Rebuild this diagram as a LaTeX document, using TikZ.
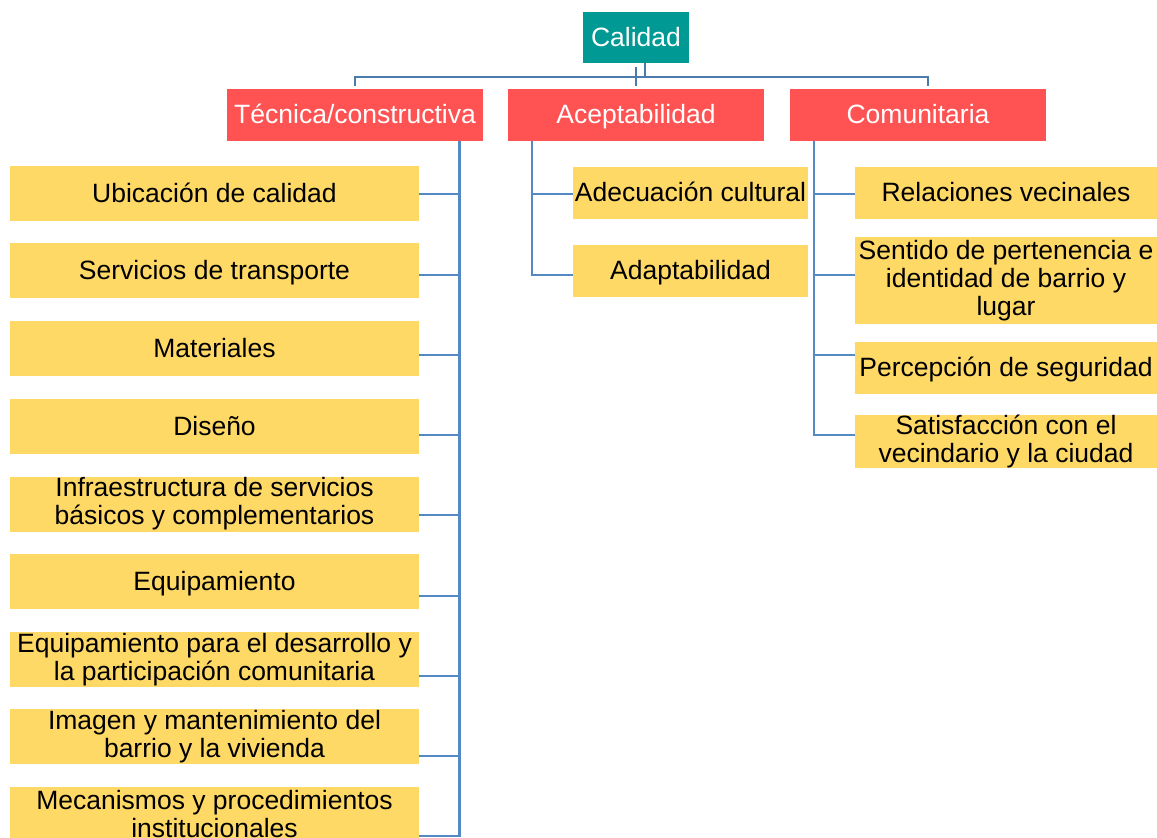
\documentclass[tikz,border=0pt]{standalone}
\usepackage{fontspec}
\setmainfont{Liberation Sans}
\usepackage{tikz}
\usetikzlibrary{calc}
\definecolor{CALteal}{RGB}{0, 153, 148}
\definecolor{CALred}{RGB}{255, 82, 82}
\definecolor{CALyellow}{RGB}{255, 217, 102}
\definecolor{CALblue}{RGB}{84, 137, 196}
\definecolor{CALdarkblue}{RGB}{76, 122, 172}
\tikzset{every node/.style={font=\fontsize{26.5}{28}\selectfont}, every path/.style={line cap=butt, line join=miter}}

\begin{document}
\begin{tikzpicture}[
    x=1pt, y=-1pt,
    oneline/.style={text height=18pt, text depth=1pt},
    rootbox/.style={
        oneline,
        fill=CALteal,
        text=white,
        inner sep=0pt,
        minimum width=106pt,
        minimum height=51pt
    },
    dimbox/.style={
        oneline,
        fill=CALred,
        text=white,
        inner sep=0pt,
        minimum width=256pt,
        minimum height=52pt
    },
    leafbox/.style={
        fill=CALyellow,
        text=black,
        align=center,
        inner sep=0pt,
        minimum height=52pt
    },
    tecleaf/.style={leafbox, minimum width=409pt, minimum height=55pt},
    aceleaf/.style={leafbox, minimum width=235pt},
    comleaf/.style={leafbox, minimum width=302pt},
    link/.style={draw=CALblue, line width=2.6pt},
    toplink/.style={draw=CALdarkblue, line width=2pt}
]

\useasboundingbox (0,0) rectangle (1157,838);

\node[rootbox] (top_cal) at (636,37.5) {Calidad};

\node[dimbox] (dim_tec) at (355,115) {Técnica/constructiva};
\node[dimbox] (dim_ace) at (636,115) {Aceptabilidad};
\node[dimbox] (dim_com) at (918,115) {Comunitaria};

\coordinate (bar_y) at (0,77);
\draw[toplink] ([yshift=3pt]dim_tec.north) |- ([xshift=10pt]dim_com.north |- bar_y)
    -- ([xshift=10pt,yshift=3pt]dim_com.north);
\draw[toplink] ([xshift=9pt]top_cal.south) -- ([xshift=9pt]top_cal.south |- bar_y);
\draw[toplink] ([yshift=-4pt]top_cal.south) -- ([yshift=3pt]dim_ace.north);

\node[tecleaf, oneline] (tec_ubi) at (214.5,193.5) {Ubicación de calidad};
\node[tecleaf, oneline] (tec_ser) at (214.5,270.5) {Servicios de transporte};
\node[tecleaf, oneline] (tec_mat) at (214.5,348.5) {Materiales};
\node[tecleaf, oneline] (tec_dis) at (214.5,426.5) {Diseño};
\node[tecleaf] (tec_inf) at (214.5,504) {Infraestructura de servicios\\básicos y complementarios};
\node[tecleaf, oneline] (tec_equ) at (214.5,581.5) {Equipamiento};
\node[tecleaf] (tec_par) at (214.5,659.5) {Equipamiento para el desarrollo y\\la participación comunitaria};
\node[tecleaf] (tec_ima) at (214.5,736.5) {Imagen y mantenimiento del\\barrio y la vivienda};
\node[tecleaf] (tec_mec) at (214.5,814) {Mecanismos y procedimientos\\institucionales};

\node[aceleaf, oneline] (ace_ade) at (690.5,193) {Adecuación cultural};
\node[aceleaf, oneline] (ace_ada) at (690.5,270.5) {Adaptabilidad};

\node[comleaf, oneline] (com_rel) at (1006,193) {Relaciones vecinales};
\node[comleaf, minimum height=87pt] (com_sen) at (1006,280.5) {Sentido de pertenencia e\\identidad de barrio y\\lugar};
\node[comleaf, oneline] (com_per) at (1006,368) {Percepción de seguridad};
\node[comleaf, minimum height=51pt] (com_sat) at (1006,441.5) {Satisfacción con el\\vecindario y la ciudad};

\coordinate (row_1) at (0,194);
\coordinate (row_2) at (0,275);
\coordinate (row_3) at (0,355);
\coordinate (row_4) at (0,435);
\coordinate (row_5) at (0,515);
\coordinate (row_6) at (0,596);
\coordinate (row_7) at (0,676);
\coordinate (row_8) at (0,756);
\coordinate (row_9) at (0,836);

\coordinate (tec_top) at ([xshift=-24pt]dim_tec.south east);
\coordinate (ace_top) at ([xshift=24pt]dim_ace.south west);
\coordinate (com_top) at ([xshift=24pt]dim_com.south west);

\draw[link] (tec_top) |- (tec_mec.east |- row_9);
\draw[link] (tec_ubi.east |- row_1) -- (tec_top |- row_1);
\draw[link] (tec_ser.east |- row_2) -- (tec_top |- row_2);
\draw[link] (tec_mat.east |- row_3) -- (tec_top |- row_3);
\draw[link] (tec_dis.east |- row_4) -- (tec_top |- row_4);
\draw[link] (tec_inf.east |- row_5) -- (tec_top |- row_5);
\draw[link] (tec_equ.east |- row_6) -- (tec_top |- row_6);
\draw[link] (tec_par.east |- row_7) -- (tec_top |- row_7);
\draw[link] (tec_ima.east |- row_8) -- (tec_top |- row_8);

\draw[link] (ace_top) |- (ace_ada.west |- row_2);
\draw[link] (ace_top |- row_1) -- (ace_ade.west |- row_1);

\draw[link] (com_top) |- (com_sat.west |- row_4);
\draw[link] (com_top |- row_1) -- (com_rel.west |- row_1);
\draw[link] (com_top |- row_2) -- (com_sen.west |- row_2);
\draw[link] (com_top |- row_3) -- (com_per.west |- row_3);

\end{tikzpicture}
\end{document}
